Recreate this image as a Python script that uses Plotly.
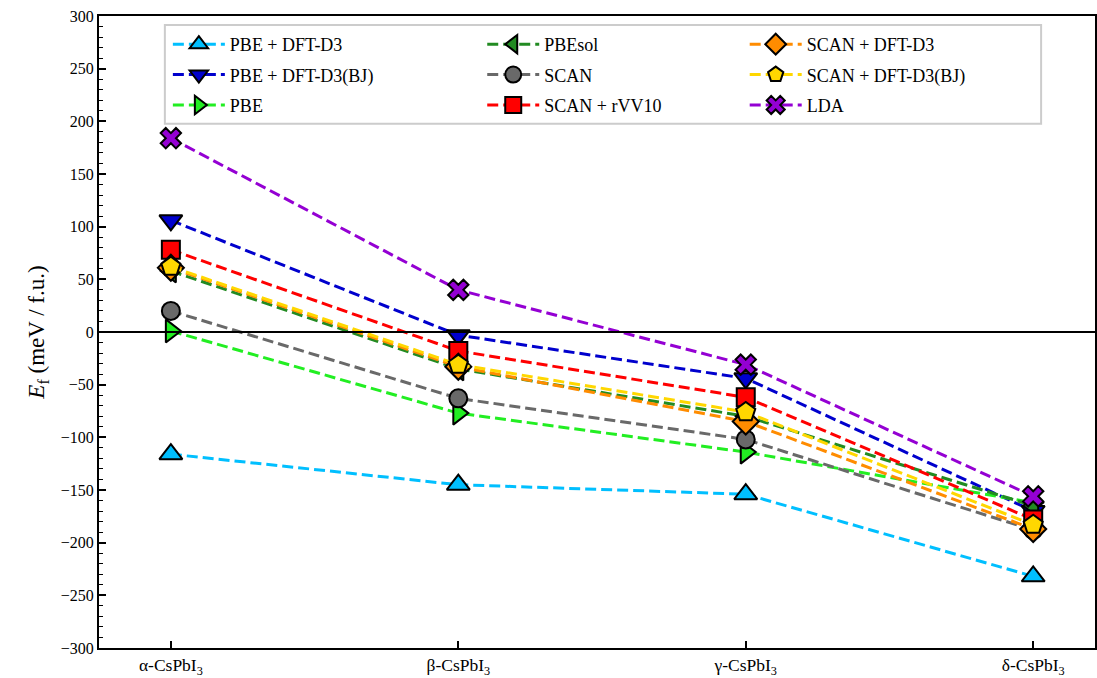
import plotly.graph_objects as go

phases = ["α-CsPbI<sub>3</sub>", "β-CsPbI<sub>3</sub>", "γ-CsPbI<sub>3</sub>", "δ-CsPbI<sub>3</sub>"]

# Formation energies (meV / f.u.) for each functional
pbe_d3 = [-116, -145, -154, -232]
pbe_d3bj = [106, -3, -44, -170]
pbe = [1, -77, -114, -162]
pbesol = [58, -35, -80, -165]
scan = [20, -63, -102, -188]
scan_rvv10 = [78, -18, -62, -178]
scan_d3 = [61, -33, -85, -187]
scan_d3bj = [62, -31, -76, -183]
lda = [184, 40, -31, -156]

series = [
    ("PBE + DFT-D3", pbe_d3, "#00BFFF", "triangle-up", "legend"),
    ("PBE + DFT-D3(BJ)", pbe_d3bj, "#0000CD", "triangle-down", "legend"),
    ("PBE", pbe, "#22EE22", "triangle-right", "legend"),
    ("PBEsol", pbesol, "#228B22", "triangle-left", "legend2"),
    ("SCAN", scan, "#696969", "circle", "legend2"),
    ("SCAN + rVV10", scan_rvv10, "#FF0000", "square", "legend2"),
    ("SCAN + DFT-D3", scan_d3, "#FF8C00", "diamond", "legend3"),
    ("SCAN + DFT-D3(BJ)", scan_d3bj, "#FFD700", "pentagon", "legend3"),
    ("LDA", lda, "#9400D3", "x", "legend3"),
]

sizes = {"triangle-up": 20, "triangle-down": 20, "triangle-right": 20, "triangle-left": 20,
         "circle": 18, "square": 18, "diamond": 20, "pentagon": 20, "x": 18}

FONT = "Liberation Serif"
fig = go.Figure()
xs = [0, 1, 2, 3]
for name, vals, color, sym, leg in series:
    fig.add_trace(go.Scatter(
        x=xs, y=vals, name=name, mode="lines+markers", legend=leg, legendgroup=name,
        line=dict(color=color, width=3, dash="11px,5px"),
        marker=dict(symbol=sym, size=sizes[sym], color=color, line=dict(color="black", width=2)),
    ))

W, H = 1097, 678
L, R, T, B = 99, 0, 16, 28
pw, ph = W - L - R, H - T - B

def px(x):
    return (x - L) / pw

def py(y):
    return (H - B - y) / ph

legend_common = dict(
    bgcolor="rgba(0,0,0,0)", borderwidth=0, font=dict(family=FONT, size=18, color="black"),
    xanchor="left", yanchor="top", tracegroupgap=4, itemwidth=52,
)

# rounded legend frame
x0, x1, y0, y1 = px(165), px(1043), py(124), py(25)
fig.add_shape(type="rect", xref="paper", yref="paper", x0=x0, x1=x1, y0=y0, y1=y1,
              line=dict(color="#CCCCCC", width=2), fillcolor="rgba(255,255,255,0.8)", layer="above")

fig.add_hline(y=0, line=dict(color="black", width=2))

fig.update_layout(
    width=W, height=H, margin=dict(l=L, r=R, t=T, b=B),
    paper_bgcolor="white", plot_bgcolor="white",
    font=dict(family=FONT, size=16, color="black"),
    showlegend=True,
    legend=dict(x=px(168), y=py(26), **legend_common),
    legend2=dict(x=px(483), y=py(26), **legend_common),
    legend3=dict(x=px(746), y=py(26), **legend_common),
    xaxis=dict(
        range=[-0.25, 3.215], tickvals=xs, ticktext=phases, showgrid=False, zeroline=False,
        showline=True, linecolor="black", linewidth=2, mirror=True,
        ticks="inside", ticklen=7, tickwidth=1.5, tickcolor="black",
        tickfont=dict(family=FONT, size=17.5),
    ),
    yaxis=dict(
        range=[-300, 300], tickvals=list(range(-300, 301, 50)), showgrid=False, zeroline=False,
        showline=True, linecolor="black", linewidth=2, mirror=True,
        ticks="inside", ticklen=7, tickwidth=1.5, tickcolor="black",
        minor=dict(dtick=10, ticks="inside", ticklen=4, tickwidth=1.2, tickcolor="black"),
        tickfont=dict(family=FONT, size=16),
        title=dict(text="<i>E</i><sub>f</sub> (meV / f.u.)", font=dict(family=FONT, size=23), standoff=10),
    ),
)

fig.write_html("out.html")
